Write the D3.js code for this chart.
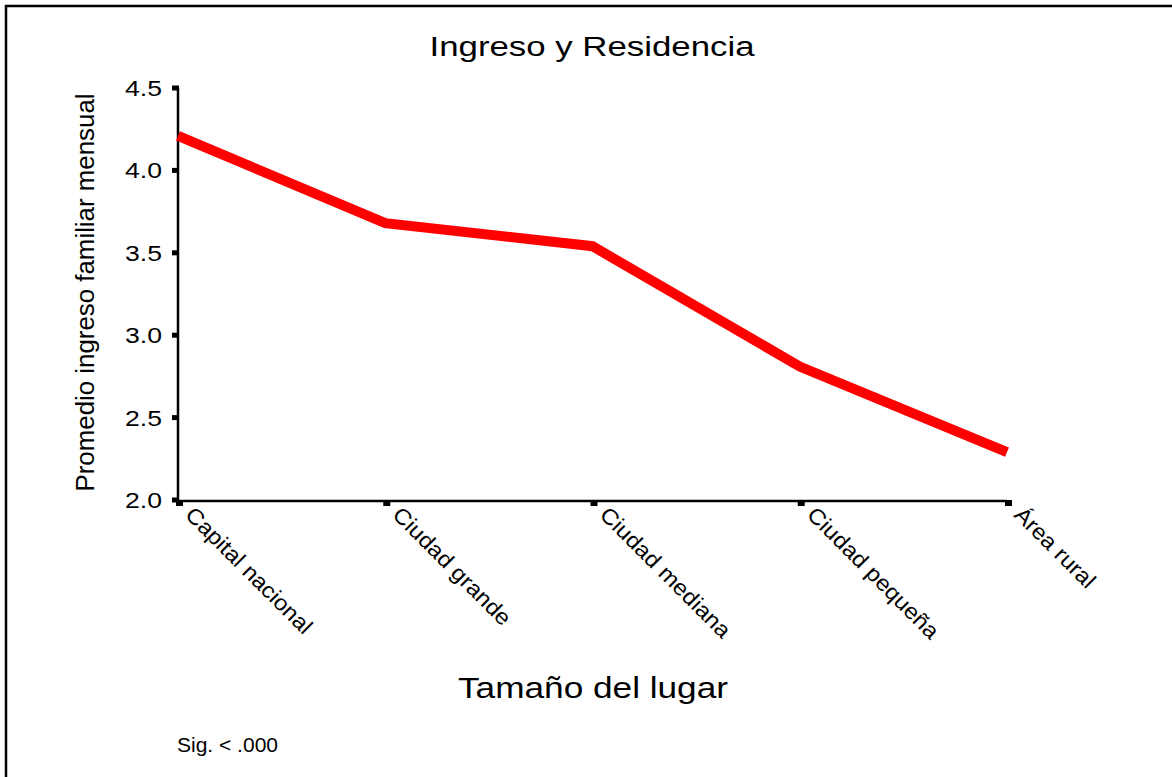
<!DOCTYPE html>
<html>
<head>
<meta charset="utf-8">
<script src="https://cdn.jsdelivr.net/npm/d3@7"></script>
<style>
html,body{margin:0;padding:0;background:#fff;}
svg{display:block;font-family:"Liberation Sans",Arial,sans-serif;}
</style>
</head>
<body>
<svg id="chart" width="1172" height="777"></svg>
<script>
const categories = ["Capital nacional","Ciudad grande","Ciudad mediana","Ciudad pequeña","Área rural"];
const values = [4.21, 3.68, 3.54, 2.81, 2.29];
const yTicks = [2.0, 2.5, 3.0, 3.5, 4.0, 4.5];
const title = "Ingreso y Residencia";
const yTitle = "Promedio ingreso familiar mensual";
const xTitle = "Tamaño del lugar";
const note = "Sig. < .000";

(function(){
const svg = d3.select("#chart");
const pLeft = 178, pRight = 1007, pTop = 88, pBottom = 500;

// frame
svg.append("path").attr("d","M6,777 V6 H1172").attr("fill","none").attr("stroke","#000").attr("stroke-width",2.5);

const x = d3.scalePoint().domain(categories).range([pLeft, pRight]);
const y = d3.scaleLinear().domain([2.0, 4.5]).range([pBottom, pTop]);

// y axis
const gy = svg.append("g");
gy.append("line").attr("x1",pLeft).attr("x2",pLeft).attr("y1",y(4.5)).attr("y2",y(2.0)+3).attr("stroke","#000").attr("stroke-width",2.5);
gy.selectAll("rect.yt").data(yTicks).join("rect").attr("class","yt")
  .attr("x",pLeft-6).attr("y",d=>y(d)-2.5).attr("width",7).attr("height",5).attr("fill","#000");
gy.selectAll("text").data(yTicks).join("text")
  .attr("x",pLeft-16).attr("y",d=>y(d)+8).attr("text-anchor","end")
  .attr("font-size",22).attr("textLength",37).attr("lengthAdjust","spacingAndGlyphs")
  .text(d=>d3.format(".1f")(d));

// x axis
const gx = svg.append("g");
gx.append("line").attr("x1",pLeft).attr("x2",pRight).attr("y1",pBottom+1).attr("y2",pBottom+1).attr("stroke","#000").attr("stroke-width",2.5);
gx.selectAll("rect").data(categories).join("rect")
  .attr("x",d=>x(d)-2).attr("y",pBottom).attr("width",7).attr("height",6).attr("fill","#000");
gx.selectAll("text").data(categories).join("text")
  .attr("transform",d=>`translate(${x(d)+6},${pBottom+16}) rotate(45)`)
  .attr("font-size",22).attr("letter-spacing",-0.6).text(d=>d)
  .each(function(){
    const L = this.getComputedTextLength();
    d3.select(this).attr("letter-spacing",null).attr("textLength",L*1.15).attr("lengthAdjust","spacingAndGlyphs");
  });

// line
const line = d3.line().x((d,i)=>x(categories[i])).y(d=>y(d));
svg.append("path").datum(values).attr("d",line).attr("fill","none")
  .attr("stroke","#ff0000").attr("stroke-width",10).attr("stroke-linejoin","miter");

// titles
svg.append("text").attr("x",592).attr("y",56).attr("text-anchor","middle").attr("font-size",27)
  .attr("textLength",325).attr("lengthAdjust","spacingAndGlyphs").text(title);
svg.append("text").attr("transform",`translate(94,${(88+497)/2}) rotate(-90)`).attr("text-anchor","middle")
  .attr("font-size",25).attr("textLength",398).attr("lengthAdjust","spacingAndGlyphs").text(yTitle);
svg.append("text").attr("x",593).attr("y",698).attr("text-anchor","middle").attr("font-size",29)
  .attr("textLength",270).attr("lengthAdjust","spacingAndGlyphs").text(xTitle);
svg.append("text").attr("x",177).attr("y",752).attr("font-size",20)
  .attr("textLength",101).attr("lengthAdjust","spacingAndGlyphs").text(note);
})();
</script>
</body>
</html>
